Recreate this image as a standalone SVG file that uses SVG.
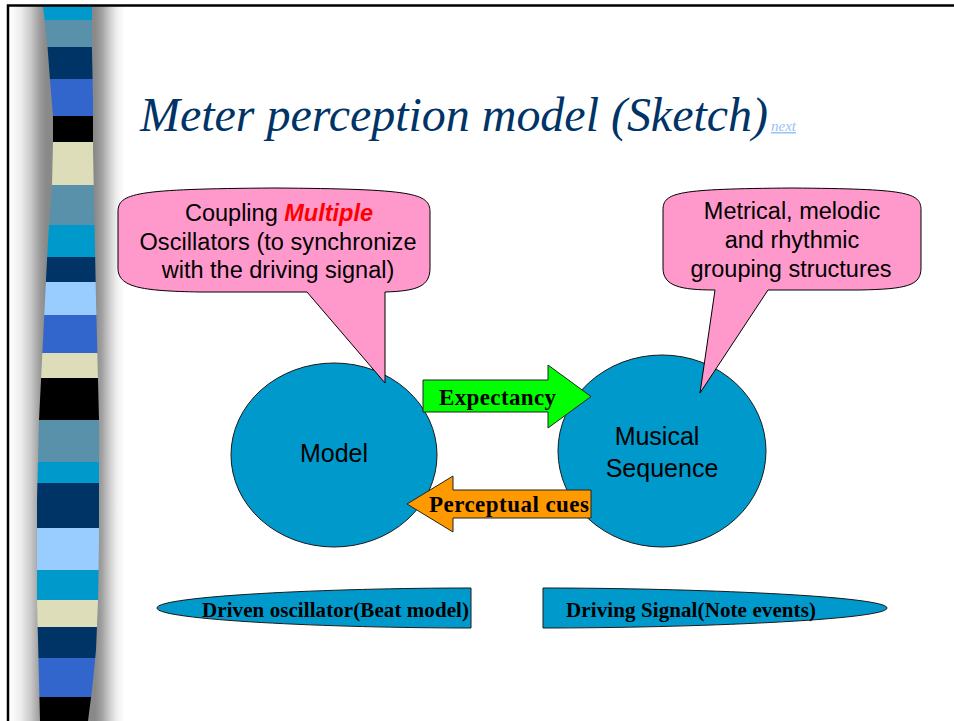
<svg xmlns="http://www.w3.org/2000/svg" width="954" height="721" viewBox="0 0 954 721">
<style>
.callout{fill:#FF99CC;stroke:#000;stroke-width:1}
.blob{fill:#0099CC;stroke:#1a1a1a;stroke-width:1}
.sans{font-family:"Liberation Sans",Arial,sans-serif;fill:#000}
.serifb{font-family:"Liberation Serif","Times New Roman",serif;font-weight:bold;fill:#000}
</style>
<defs>
<linearGradient id="shade" x1="9" y1="0" x2="125" y2="0" gradientUnits="userSpaceOnUse">
<stop offset="0" stop-color="#ffffff"/>
<stop offset="0.1" stop-color="#eeeeee"/>
<stop offset="0.19" stop-color="#c8c8c8"/>
<stop offset="0.27" stop-color="#9a9a9a"/>
<stop offset="0.32" stop-color="#898989"/>
<stop offset="0.74" stop-color="#898989"/>
<stop offset="0.8" stop-color="#a0a0a0"/>
<stop offset="0.87" stop-color="#cfcfcf"/>
<stop offset="0.93" stop-color="#f0f0f0"/>
<stop offset="1" stop-color="#ffffff"/>
</linearGradient>
<clipPath id="barClip">
<polygon points="43,6 47,40 50,80 53,116 53,142 52,185 49,225 47,260 45,300 43,340 41,380 39,420 38,460 37,500 37,560 37,600 38,640 39,680 40,721 88,721 92,690 96,650 98,600 99,540 99,480 99,420 98,380 97,340 96,300 95,250 94,200 93,150 93,100 92,50 92,6"/>
</clipPath>
</defs>
<rect width="954" height="721" fill="#fff"/>
<g id="sidebar">
<rect x="9" y="6" width="116" height="715" fill="url(#shade)"/>
<g clip-path="url(#barClip)">
<rect x="30" y="6" width="80" height="14" fill="#0099CC"/>
<rect x="30" y="20" width="80" height="27" fill="#5891A9"/>
<rect x="30" y="47" width="80" height="32" fill="#003366"/>
<rect x="30" y="79" width="80" height="37" fill="#3366CC"/>
<rect x="30" y="116" width="80" height="26" fill="#000000"/>
<rect x="30" y="142" width="80" height="43" fill="#DDDDB9"/>
<rect x="30" y="185" width="80" height="40" fill="#5891A9"/>
<rect x="30" y="225" width="80" height="32" fill="#0099CC"/>
<rect x="30" y="257" width="80" height="25" fill="#003366"/>
<rect x="30" y="282" width="80" height="33" fill="#99CCFF"/>
<rect x="30" y="315" width="80" height="38" fill="#3366CC"/>
<rect x="30" y="353" width="80" height="25" fill="#DDDDB9"/>
<rect x="30" y="378" width="80" height="42" fill="#000000"/>
<rect x="30" y="420" width="80" height="42" fill="#5891A9"/>
<rect x="30" y="462" width="80" height="21" fill="#0099CC"/>
<rect x="30" y="483" width="80" height="45" fill="#003366"/>
<rect x="30" y="528" width="80" height="42" fill="#99CCFF"/>
<rect x="30" y="570" width="80" height="30" fill="#0099CC"/>
<rect x="30" y="600" width="80" height="27" fill="#DDDDB9"/>
<rect x="30" y="627" width="80" height="31" fill="#003366"/>
<rect x="30" y="658" width="80" height="39" fill="#3366CC"/>
<rect x="30" y="697" width="80" height="24" fill="#000000"/>
</g>
</g>
<path d="M8,721 V5.5 H954" fill="none" stroke="#000" stroke-width="2.5"/>
<g id="title">
<text x="140" y="131" font-family="'Liberation Serif','Times New Roman',serif" font-style="italic" font-size="48" fill="#003366" textLength="628">Meter perception model (Sketch)</text>
<text x="771" y="131" font-family="'Liberation Serif','Times New Roman',serif" font-style="italic" font-size="15" fill="#99C2F5" text-decoration="underline">next</text>
</g>
<g id="model">
<ellipse class="blob" cx="334" cy="455" rx="103" ry="92"/>
<text class="sans" x="334" y="462" font-size="25" text-anchor="middle">Model</text>
</g>
<g id="musical-sequence">
<ellipse class="blob" cx="662" cy="451" rx="104" ry="96"/>
<text class="sans" x="657" y="445" font-size="25" text-anchor="middle">Musical</text>
<text class="sans" x="662" y="477" font-size="25" text-anchor="middle">Sequence</text>
</g>
<g id="callout-coupling">
<path class="callout" d="M118,212 C118,193 135,189 274,188 C413,189 430,193 430,212 L430,268 C430,286 418,291 385,292 L385,383 L307,292 L200,292 C140,291 118,287 118,268 Z"/>
<text class="sans" x="279" y="221" font-size="23.5" text-anchor="middle">Coupling <tspan font-weight="bold" font-style="italic" fill="#FF0000">Multiple</tspan></text>
<text class="sans" x="278" y="250" font-size="23.5" text-anchor="middle" textLength="277">Oscillators (to synchronize</text>
<text class="sans" x="278" y="278" font-size="23.5" text-anchor="middle">with the driving signal)</text>
</g>
<g id="callout-structures">
<path class="callout" d="M663,210 C663,192 678,189 792,188 C906,189 921,192 921,210 L921,268 C921,286 906,289 860,290 L768,290 L700,393 L715,290 C680,290 663,286 663,268 Z"/>
<text class="sans" x="792" y="219" font-size="23.5" text-anchor="middle">Metrical, melodic</text>
<text class="sans" x="792" y="248" font-size="23.5" text-anchor="middle">and rhythmic</text>
<text class="sans" x="791" y="277" font-size="23.5" text-anchor="middle">grouping structures</text>
</g>
<g id="connectors">
<g id="expectancy">
<path d="M423,380 H548 V365 L591,396.5 L548,428 V412 H423 Z" fill="#00FF00" stroke="#222" stroke-width="1"/>
<text class="serifb" x="439" y="405" font-size="23" textLength="117">Expectancy</text>
</g>
<g id="perceptual-cues">
<path d="M591,490 H453 V476 L407,504 L453,532 V518 H591 Z" fill="#FF9900" stroke="#222" stroke-width="1"/>
<text class="serifb" x="429" y="512" font-size="23" textLength="160">Perceptual cues</text>
</g>
</g>
<g id="driven-oscillator">
<path class="blob" d="M471,588 C330,588 157,596 157,608 C157,620 330,628 471,628 Z"/>
<text class="serifb" x="202" y="617" font-size="21" textLength="267">Driven oscillator(Beat model)</text>
</g>
<g id="driving-signal">
<path class="blob" d="M543,588 C690,588 887,596 887,608 C887,620 690,628 543,628 Z"/>
<text class="serifb" x="566" y="617" font-size="21" textLength="250">Driving Signal(Note events)</text>
</g>
</svg>
